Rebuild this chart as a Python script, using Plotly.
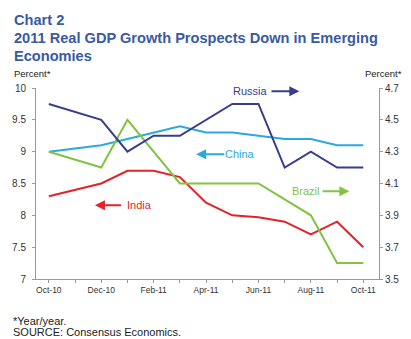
import plotly.graph_objects as go

months = ["Oct-10", "Nov-10", "Dec-10", "Jan-11", "Feb-11", "Mar-11", "Apr-11",
          "May-11", "Jun-11", "Jul-11", "Aug-11", "Sep-11", "Oct-11"]
tick_labels = ["Oct-10", "", "Dec-10", "", "Feb-11", "", "Apr-11", "", "Jun-11", "", "Aug-11", "", "Oct-11"]

# Left axis (percent)
china = [9.0, 9.05, 9.1, 9.2, 9.3, 9.4, 9.3, 9.3, 9.25, 9.2, 9.2, 9.1, 9.1]
india = [8.3, 8.4, 8.5, 8.7, 8.7, 8.6, 8.2, 8.0, 7.97, 7.9, 7.7, 7.9, 7.5]
# Right axis (percent)
russia = [4.6, 4.55, 4.5, 4.3, 4.4, 4.4, 4.5, 4.6, 4.6, 4.2, 4.3, 4.2, 4.2]
brazil = [4.3, 4.25, 4.2, 4.5, 4.3, 4.1, 4.1, 4.1, 4.1, 4.0, 3.9, 3.6, 3.6]

left_ticks = [7, 7.5, 8, 8.5, 9, 9.5, 10]
left_tick_text = ["7", "7.5", "8", "8.5", "9", "9.5", "10"]
right_ticks = [3.5, 3.7, 3.9, 4.1, 4.3, 4.5, 4.7]

C_RUS = "#3a3d8e"
C_CHN = "#2aa9e0"
C_BRA = "#82c341"
C_IND = "#e2232a"
C_TITLE = "#3a5aa4"
FONT = "Arial, Liberation Sans, sans-serif"

xs = list(range(len(months)))

fig = go.Figure()
fig.add_trace(go.Scatter(x=xs, y=china, mode="lines", line=dict(color=C_CHN, width=2), name="China"))
fig.add_trace(go.Scatter(x=xs, y=india, mode="lines", line=dict(color=C_IND, width=2), name="India"))
fig.add_trace(go.Scatter(x=xs, y=brazil, mode="lines", line=dict(color=C_BRA, width=2), name="Brazil", yaxis="y2"))
fig.add_trace(go.Scatter(x=xs, y=russia, mode="lines", line=dict(color=C_RUS, width=2), name="Russia", yaxis="y2"))

W, H = 411, 339
L, R, T, B = 34, 383, 88, 279


def px(X):
    return (X - L) / (R - L)


def py(Y):
    return (B - Y) / (B - T)


ann = []
# titles
for txt, yc in [("Chart 2", 19.5), ("2011 Real GDP Growth Prospects Down in Emerging", 38), ("Economies", 56)]:
    ann.append(dict(text="<b>" + txt + "</b>", xref="paper", yref="paper", x=px(10), y=py(yc),
                    xanchor="left", yanchor="middle", showarrow=False,
                    font=dict(family=FONT, size=14.6, color=C_TITLE)))
ann.append(dict(text="Percent*", xref="paper", yref="paper", x=px(10), y=py(73), xanchor="left",
                yanchor="middle", showarrow=False, font=dict(family=FONT, size=9.5, color="#222")))
ann.append(dict(text="Percent*", xref="paper", yref="paper", x=px(408), y=py(73), xanchor="right",
                yanchor="middle", showarrow=False, font=dict(family=FONT, size=9.5, color="#222")))
ann.append(dict(text="*Year/year.", xref="paper", yref="paper", x=px(9), y=py(321), xanchor="left",
                yanchor="middle", showarrow=False, font=dict(family=FONT, size=11, color="#222")))
ann.append(dict(text="SOURCE: Consensus Economics.", xref="paper", yref="paper", x=px(9), y=py(331.5),
                xanchor="left", yanchor="middle", showarrow=False, font=dict(family=FONT, size=11, color="#222")))

# series labels with arrows (data coords)
labels = [
    ("Russia", C_RUS, 7.69, 9.95, 8.44, 9.56),
    ("China", C_CHN, 7.31, 8.96, 6.75, 5.62),
    ("Brazil", C_BRA, 9.82, 8.38, 10.39, 11.47),
    ("India", C_IND, 3.45, 8.16, 2.81, 1.76),
]
for name, col, tx, ty, tail, head in labels:
    ann.append(dict(text=name, x=tx, y=ty, xref="x", yref="y", showarrow=False,
                    font=dict(family=FONT, size=11, color=col)))
    ann.append(dict(text="", x=head, y=ty, ax=tail, ay=ty, xref="x", yref="y", axref="x", ayref="y",
                    showarrow=True, arrowhead=2, arrowsize=1, arrowwidth=2, arrowcolor=col))

fig.update_layout(
    width=W, height=H,
    margin=dict(l=L, r=W - R, t=T, b=H - B),
    paper_bgcolor="white", plot_bgcolor="white",
    showlegend=False,
    font=dict(family=FONT, color="#333"),
    xaxis=dict(range=[-0.49, 12.6], tickvals=xs, ticktext=tick_labels, ticks="outside", ticklen=3,
               tickcolor="#999", showline=True, linecolor="#999", linewidth=1, showgrid=False,
               zeroline=False, tickfont=dict(size=8.5, color="#333"), fixedrange=True),
    yaxis=dict(range=[7, 10], tickvals=left_ticks, ticktext=left_tick_text, ticks="outside", ticklen=3,
               tickcolor="#999", showline=True, linecolor="#999", linewidth=1, showgrid=False,
               zeroline=False, tickfont=dict(size=10, color="#333"), ticklabelstandoff=4),
    yaxis2=dict(range=[3.5, 4.7], tickvals=right_ticks, ticktext=[f"{v:.1f}" for v in right_ticks],
                overlaying="y", side="right", ticks="outside", ticklen=3, tickcolor="#999",
                showline=True, linecolor="#999", linewidth=1, showgrid=False, zeroline=False,
                tickfont=dict(size=10, color="#333")),
    annotations=ann,
)

fig.write_html("out.html")
